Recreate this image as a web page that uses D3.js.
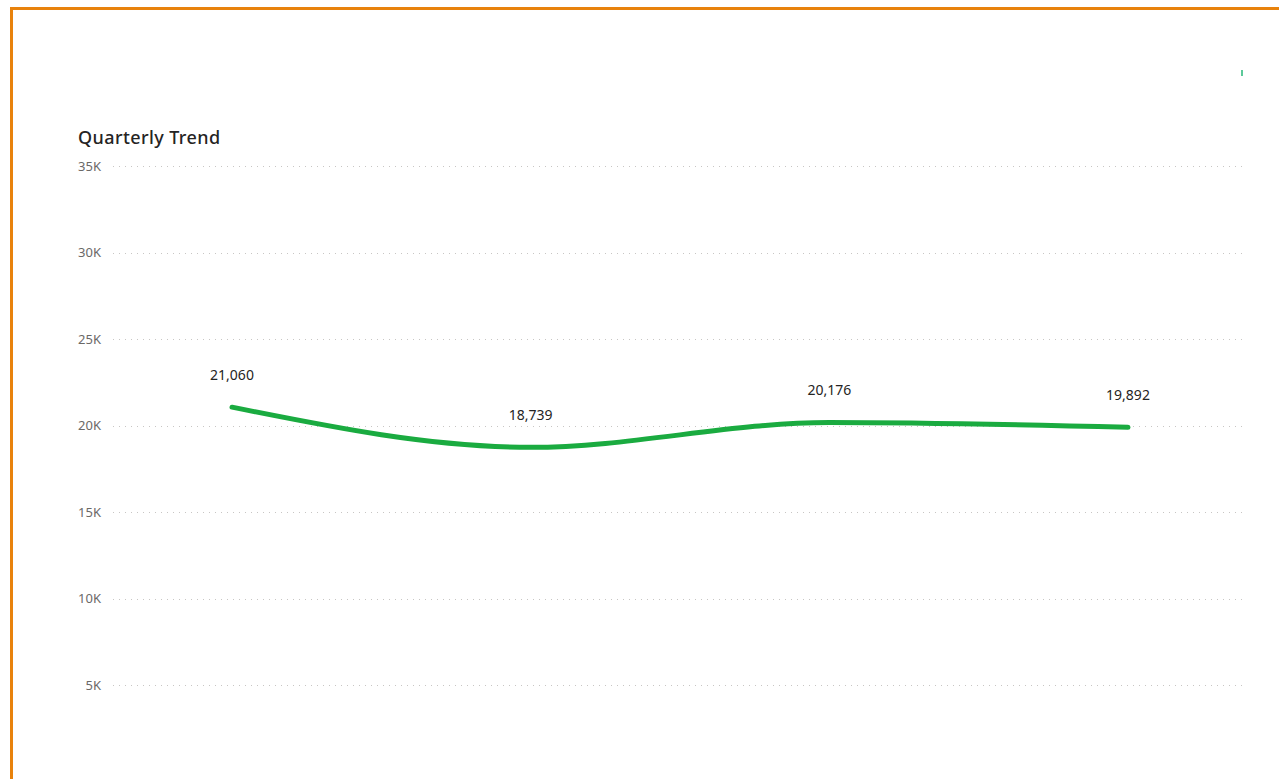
<!DOCTYPE html>
<html>
<head>
<meta charset="utf-8">
<script src="https://cdn.jsdelivr.net/npm/d3@7"></script>
<style>
    body { margin: 0; background: #fff; }
    svg { display: block; }
</style>
</head>
<body>
<div id="chart"></div>
<script>
// quarterly values
var quarters = ['Q1', 'Q2', 'Q3', 'Q4'];
var values = [21060, 18739, 20176, 19892];
var yTicks = [5000, 10000, 15000, 20000, 25000, 30000, 35000];

var width = 1279, height = 779;

var svg = d3.select('#chart').append('svg')
    .attr('width', width)
    .attr('height', height);

// card border (runs off the right and bottom edge)
svg.append('rect')
    .attr('x', 11.5)
    .attr('y', 8.5)
    .attr('width', width + 20)
    .attr('height', height + 20)
    .attr('fill', 'none')
    .attr('stroke', '#E8820C')
    .attr('stroke-width', 3);

// tiny header icon
svg.append('rect')
    .attr('x', 1241)
    .attr('y', 70)
    .attr('width', 2)
    .attr('height', 6)
    .attr('fill', '#5CC99A');

svg.append('text')
    .attr('x', 78)
    .attr('y', 144)
    .style('font-family', 'Noto Sans, sans-serif')
    .style('font-size', '18px')
    .style('font-weight', 500)
    .style('letter-spacing', '0.4px')
    .style('fill', '#252423')
    .text('Quarterly Trend');

var x = d3.scalePoint()
    .domain(quarters)
    .range([232, 1128]);

var y = d3.scaleLinear()
    .domain([0, 35000])
    .range([771.5, 166]);

var yAxis = d3.axisLeft(y)
    .tickValues(yTicks)
    .tickSize(0)
    .tickPadding(0)
    .tickFormat(function (d) { return d / 1000 + 'K'; });

var axisG = svg.append('g')
    .attr('transform', 'translate(101,0)')
    .call(yAxis);

axisG.select('.domain').remove();
axisG.selectAll('text')
    .style('font-family', 'Noto Sans, sans-serif')
    .style('font-size', '13px')
    .style('fill', '#6B6967');

// dotted gridlines
svg.append('g')
    .selectAll('line')
    .data(yTicks)
    .join('line')
    .attr('x1', 113)
    .attr('x2', 1244)
    .attr('y1', function (d) { return Math.round(y(d)) + 0.5; })
    .attr('y2', function (d) { return Math.round(y(d)) + 0.5; })
    .attr('stroke', '#C8C6C4')
    .attr('stroke-width', 1)
    .attr('stroke-dasharray', '1,5');

var line = d3.line()
    .x(function (d, i) { return x(quarters[i]); })
    .y(function (d) { return y(d); })
    .curve(d3.curveMonotoneX);

svg.append('path')
    .datum(values)
    .attr('d', line)
    .attr('fill', 'none')
    .attr('stroke', '#1AAB40')
    .attr('stroke-width', 5)
    .attr('stroke-linecap', 'round');

svg.append('g')
    .selectAll('text')
    .data(values)
    .join('text')
    .attr('x', function (d, i) { return x(quarters[i]); })
    .attr('y', function (d) { return y(d) - 27; })
    .attr('text-anchor', 'middle')
    .style('font-family', 'Noto Sans, sans-serif')
    .style('font-size', '14px')
    .style('fill', '#252423')
    .text(function (d) { return d3.format(',')(d); });
</script>
</body>
</html>
